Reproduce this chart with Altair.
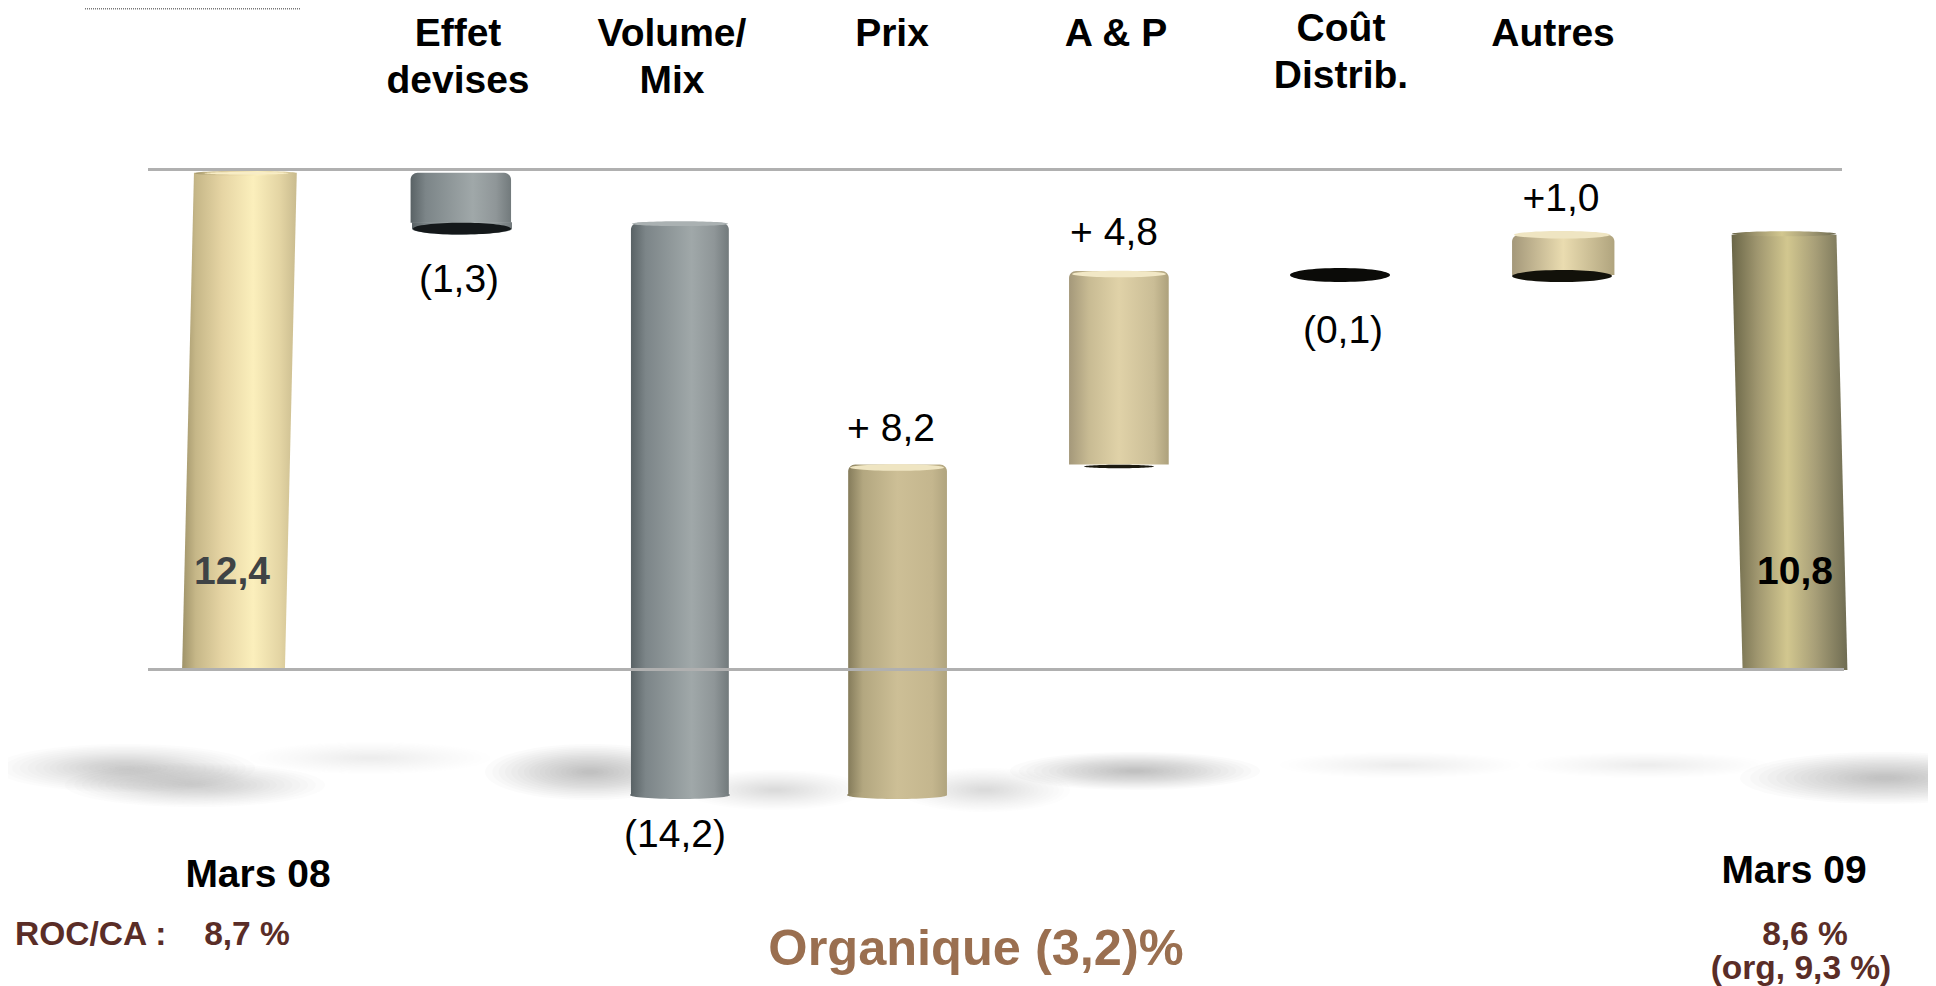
import altair as alt
import pandas as pd

# ---------- data ----------
categories = ["Mars 08", "Effet devises", "Volume/Mix", "Prix", "A & P", "Coût Distrib.", "Autres", "Mars 09"]
steps = [12.4, -1.3, -14.2, 8.2, 4.8, -0.1, 1.0]
closing = 10.8
value_labels = ["12,4", "(1,3)", "(14,2)", "+ 8,2", "+ 4,8", "(0,1)", "+1,0", "10,8"]

# ---------- waterfall table ----------
rows = []
level = 0.0
for i, step in enumerate(steps):
    start, level = level, round(level + step, 1)
    rows.append({"i": i, "cat": categories[i], "start": start, "end": level, "label": value_labels[i]})
rows.append({"i": 7, "cat": categories[7], "start": 0.0, "end": closing, "label": value_labels[7]})
table = pd.DataFrame(rows)
for c in ("start", "end"):
    table[c] = table[c].astype(float)
table["hi"] = table[["start", "end"]].max(axis=1)
table["lo"] = table[["start", "end"]].min(axis=1)
table["left"] = table["i"] - 0.225
table["right"] = table["i"] + 0.225

# ---------- scales (piecewise x follows the slide's uneven spacing) ----------
X = alt.Scale(domain=list(range(8)), range=[225.5, 454, 672, 889, 1111, 1332, 1554, 1787], nice=False, zero=False)
Y = alt.Scale(domain=[0, 12.4], range=[662, 162.28], nice=False, zero=False)
FONT = "Liberation Sans"
HEAD = 39
SMALL = 33.5
BROWN = "#5a2d27"
TOP_INSET = 0.06  # the cylinders' visible rim sits just under the reference line
BLUR = [1, .93, .87, .81, .75, .69, .63, .58, .53, .48, .43, .38, .33, .28, .23, .18, .13, .08]


def grad(*stops):
    return alt.LinearGradient(
        gradient="linear", x1=0, x2=1, y1=0, y2=0,
        stops=[alt.GradientStop(offset=o, color=c) for o, c in stops],
    )


G_M08 = grad((0, "#9f9369"), (.12, "#c6b788"), (.35, "#e6d5a4"), (.62, "#fbefbc"), (.85, "#e4d5a4"), (1, "#c9bb8e"))
G_M09 = grad((0, "#6a6647"), (.22, "#9f966f"), (.48, "#d2c78f"), (.72, "#a89f78"), (1, "#6f6c52"))
G_GRAY = grad((0, "#596265"), (.15, "#7c8588"), (.62, "#a0a8a9"), (.85, "#8f9698"), (1, "#727a7c"))
G_PRIX = grad((0, "#857c5b"), (.15, "#b3a780"), (.5, "#cdbf96"), (.85, "#c4b68e"), (1, "#b0a47e"))
G_AP = grad((0, "#a4987a"), (.2, "#c8bb93"), (.5, "#e0d2a8"), (.85, "#cabd96"), (1, "#ada17c"))
G_AUT = grad((0, "#a4987a"), (.5, "#eadcb0"), (1, "#b0a47e"))


def sub(*idx):
    return table[table["i"].isin(idx)]


def body(idx, fill, radius=7, inset=0.0):
    d = sub(*idx).copy()
    d["top"] = d["hi"] - inset
    return alt.Chart(d).mark_bar(
        fill=fill, cornerRadiusTopLeft=radius, cornerRadiusTopRight=radius
    ).encode(
        x=alt.X("left:Q", scale=X, axis=None),
        x2="right:Q",
        y=alt.Y("top:Q", scale=Y, axis=None),
        y2="lo:Q",
    )


def leaning(i, top, lean, fill):
    d = pd.DataFrame({"v": [0.0, top], "l": [i - .225, i - .225 + lean], "r": [i + .225, i + .225 + lean]})
    return alt.Chart(d).mark_area(orient="horizontal", fill=fill).encode(
        y=alt.Y("v:Q", scale=Y, axis=None),
        x=alt.X("l:Q", scale=X, axis=None),
        x2="r:Q",
    )


def ellipse_path(ry):
    return f"M-1,0 A1,{ry} 0 1 1 1,0 A1,{ry} 0 1 1 -1,0 Z"


def ellipse(idx, field, ry, fill, y_off=0, width=100, x_off=0):
    return alt.Chart(sub(*idx)).mark_point(
        shape=ellipse_path(ry), filled=True, fill=fill, opacity=1, size=width * width,
        strokeWidth=0, yOffset=y_off, xOffset=x_off,
    ).encode(
        x=alt.X("i:Q", scale=X, axis=None),
        y=alt.Y(f"{field}:Q", scale=Y, axis=None),
    )


def lower_cup(idx, fill, depth, ry):
    path = f"M-1,-0.01 L1,-0.01 L1,{depth} A1,{ry} 0 0 1 -1,{depth} Z"
    return alt.Chart(sub(*idx)).mark_point(
        shape=path, filled=True, fill=fill, opacity=1, size=10000, strokeWidth=0,
    ).encode(
        x=alt.X("i:Q", scale=X, axis=None),
        y=alt.Y("lo:Q", scale=Y, axis=None),
    )


def note(text, x, y, size=HEAD, color="#000000", weight="bold", align="center"):
    d = pd.DataFrame({"t": [text]})
    return alt.Chart(d).mark_text(
        font=FONT, fontSize=size, fontWeight=weight, color=color, align=align, baseline="middle",
    ).encode(text="t:N", x=alt.value(x - 8), y=alt.value(y - 8))


def shadow(cx, cy, rx, ry, alpha):
    d = pd.DataFrame({"s": [(2 * rx * t) ** 2 for t in BLUR]})
    return alt.Chart(d).mark_point(
        shape=ellipse_path(round(ry / rx, 4)), filled=True, fill="#8c8c8c",
        opacity=alpha / len(BLUR), strokeWidth=0,
    ).encode(
        x=alt.value(cx - 8), y=alt.value(cy - 8),
        size=alt.Size("s:Q", scale=None, legend=None),
    )


def rule(y, x1, x2, color="#b0b0b0", w=3, dash=None):
    kw = {"strokeDash": dash} if dash else {}
    return alt.Chart(pd.DataFrame({"a": [0]})).mark_rule(color=color, strokeWidth=w, **kw).encode(
        x=alt.value(x1 - 8), x2=alt.value(x2 - 8), y=alt.value(y - 8),
    )


def value_text(i, field, dy, dx):
    return alt.Chart(sub(i)).mark_text(
        font=FONT, fontSize=HEAD, fontWeight="normal", color="#000000", align="center", baseline="middle",
        dy=dy, dx=dx,
    ).encode(
        x=alt.X("i:Q", scale=X, axis=None),
        y=alt.Y(f"{field}:Q", scale=Y, axis=None),
        text="label:N",
    )


shadows = [
    shadow(975, 772, 1000, 34, .07),
    shadow(125, 768, 130, 24, .42),
    shadow(195, 785, 130, 22, .50),
    shadow(370, 758, 120, 16, .20),
    shadow(590, 772, 105, 28, .55),
    shadow(775, 790, 90, 20, .30),
    shadow(985, 790, 85, 22, .32),
    shadow(1135, 771, 125, 19, .55),
    shadow(1400, 765, 120, 13, .14),
    shadow(1647, 765, 120, 13, .14),
    shadow(1885, 778, 145, 26, .62),
]

lines = [
    rule(169.5, 148, 1842),
    rule(669.5, 148, 1844),
    rule(8.5, 85, 300, color="#777777", w=2, dash=[1, 1]),
]

bars = [
    leaning(0, 12.4 - TOP_INSET, 0.052, G_M08),
    ellipse([0], "hi", .05, G_M08, x_off=12, width=101, y_off=3),
    ellipse([0], "hi", .03, "#f8edc6", x_off=13, width=84, y_off=3),
    body([1], G_GRAY, inset=TOP_INSET),
    lower_cup([1], G_GRAY, .12, .12),
    ellipse([1], "lo", .12, "#14181a", y_off=6, width=98),
    body([2], G_GRAY),
    ellipse([2], "hi", .05, "#aab1b2", y_off=1, width=96),
    ellipse([2], "lo", .08, G_GRAY),
    body([3], G_PRIX),
    ellipse([3], "hi", .07, "#efe5c2", y_off=3, width=94),
    ellipse([3], "lo", .08, G_PRIX),
    body([4], G_AP),
    ellipse([4], "hi", .07, "#f2e8c6", y_off=3, width=94),
    ellipse([4], "lo", .05, "#1c1a10", y_off=2, width=70),
    ellipse([5], "lo", .14, "#0b0b08"),
    body([6], G_AUT),
    ellipse([6], "hi", .08, "#efe5c2", width=96),
    ellipse([6], "lo", .12, "#12110a", y_off=1),
    leaning(7, 10.8, -0.047, G_M09),
    ellipse([7], "hi", .05, G_M09, x_off=-11, width=104, y_off=-1),
]

values = [
    value_text(1, "lo", 57, -3),
    value_text(2, "lo", 40, -5),
    value_text(3, "hi", -35, -6),
    value_text(4, "hi", -38, -5),
    value_text(5, "lo", 56, 3),
    value_text(6, "hi", -36, -1),
]

texts = [
    note("Effet", 458, 34), note("devises", 458, 81),
    note("Volume/", 672, 34), note("Mix", 672, 81),
    note("Prix", 892, 34),
    note("A & P", 1116, 34),
    note("Coût", 1341, 29), note("Distrib.", 1341, 76),
    note("Autres", 1553, 34),
    note(value_labels[0], 232, 572, color="#3f4345"),
    note(value_labels[7], 1795, 572),
    note("Mars 08", 258, 875),
    note("Mars 09", 1794, 871),
    note("ROC/CA :", 15, 935, size=SMALL, color=BROWN, align="left"),
    note("8,7 %", 247, 935, size=SMALL, color=BROWN),
    note("Organique (3,2)%", 976, 950, size=50.5, color="#9a6f50"),
    note("8,6 %", 1805, 935, size=SMALL, color=BROWN),
    note("(org, 9,3 %)", 1801, 969, size=SMALL, color=BROWN),
]

chart = alt.layer(*shadows, *bars, *lines, *values, *texts).properties(
    width=1920, height=978, padding=0, background="white",
    autosize=alt.AutoSizeParams(type="none"),
).configure_view(stroke=None)

chart.save("out.html", embed_options={"renderer": "svg", "actions": False})
